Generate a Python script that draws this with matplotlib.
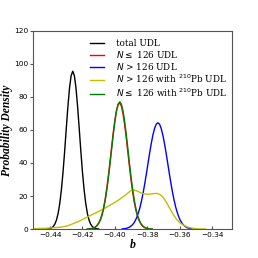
import numpy as np
import matplotlib
matplotlib.use("Agg")
import matplotlib.pyplot as plt

# density curves (b, probability density)
b_total = np.linspace(-0.442, -0.410, 33)
pd_total = [0.07, 0.16, 0.37, 0.79, 1.6, 3.1, 5.6, 9.6, 15.6, 23.8, 34.4,
            47.0, 60.7, 74.0, 85.3, 92.8, 95.5, 92.8, 85.3, 74.0, 60.7, 47.0,
            34.4, 23.8, 15.6, 9.6, 5.6, 3.1, 1.6, 0.79, 0.37, 0.16, 0.07]

b_low = np.linspace(-0.417, -0.377, 41)
pd_low = [0.06, 0.11, 0.21, 0.41, 0.75, 1.3, 2.3, 3.7, 5.8, 8.8, 12.9,
          18.2, 24.8, 32.5, 41.1, 49.9, 58.5, 66.0, 71.8, 75.4, 76.3,
          74.3, 69.8, 63.2, 55.2, 46.4, 37.6, 29.3, 22.1, 16.0, 11.2,
          7.6, 5.0, 3.1, 1.9, 1.1, 0.62, 0.33, 0.17, 0.09, 0.04]
pd_low_pb = [0.05, 0.10, 0.19, 0.37, 0.68, 1.2, 2.1, 3.4, 5.4, 8.2, 12.1,
             17.2, 23.6, 31.1, 39.6, 48.5, 57.3, 65.2, 71.5, 75.6, 77.0,
             75.6, 71.5, 65.2, 57.3, 48.5, 39.6, 31.1, 23.6, 17.2, 12.1,
             8.2, 5.4, 3.4, 2.1, 1.2, 0.68, 0.37, 0.19, 0.10, 0.05]

b_high = np.linspace(-0.3955, -0.3515, 45)
pd_high = [0.12, 0.21, 0.35, 0.59, 0.95, 1.5, 2.3, 3.4, 5.0, 7.1, 9.9,
           13.3, 17.5, 22.4, 28.0, 34.0, 40.3, 46.5, 52.2, 57.2, 61.0, 63.5,
           64.3, 63.5, 61.0, 57.2, 52.2, 46.5, 40.3, 34.0, 28.0, 22.4, 17.5,
           13.3, 9.9, 7.1, 5.0, 3.4, 2.3, 1.5, 0.95, 0.59, 0.35, 0.21, 0.12]

b_high_pb = np.linspace(-0.450, -0.344, 54)
pd_high_pb = [0.2, 0.28, 0.35, 0.45, 0.55, 0.68, 0.8, 0.95, 1.1, 1.4,
              1.8, 2.4, 3.2, 4.0, 4.8, 5.8, 6.8, 7.8, 8.8, 9.7,
              10.7, 11.7, 12.8, 13.9, 15.0, 16.2, 17.4, 18.8, 20.2, 21.8,
              23.4, 23.6, 22.9, 21.9, 21.3, 21.1, 21.2, 21.5, 21.6, 20.8,
              18.8, 15.8, 12.2, 8.8, 6.0, 3.9, 2.5, 1.6, 0.9, 0.5,
              0.25, 0.1, 0.05, 0.0]

fig = plt.figure(figsize=(2.58, 2.58), dpi=100)
ax = fig.add_axes([0.128, 0.112, 0.773, 0.769])

lw = 1.0
ax.plot(b_total, pd_total, color='k', lw=lw, label='total UDL')
ax.plot(b_low, pd_low, color='r', lw=lw, label=r'$N \leq$ 126 UDL')
ax.plot(b_high, pd_high, color='b', lw=lw, label=r'$N$ > 126 UDL')
ax.plot(b_high_pb, pd_high_pb, color='y', lw=lw,
        label=r'$N$ > 126 with $^{210}$Pb UDL')
ax.plot(b_low, pd_low_pb, color='g', lw=lw,
        label=r'$N \leq$ 126 with $^{210}$Pb UDL')

ax.set_xlim(-0.4505, -0.3275)
ax.set_ylim(0, 120)
ax.set_xticks([-0.44, -0.42, -0.40, -0.38, -0.36, -0.34])
ax.set_yticks([0, 20, 40, 60, 80, 100, 120])
ax.tick_params(axis='x', direction='in', length=2, labelsize=5.3, pad=2,
               color='#555555')
ax.tick_params(axis='y', direction='out', length=2, labelsize=5.3, pad=1.5,
               color='#555555')
for s in ax.spines.values():
    s.set_color('#555555')
    s.set_linewidth(0.8)

ax.set_xlabel('b', family='Liberation Serif', weight='bold', style='italic',
              fontsize=8.5, labelpad=0.5)
ax.set_ylabel('Probability Density', family='Liberation Serif', weight='bold',
              style='italic', fontsize=8.3, labelpad=0.8)

leg = ax.legend(loc='upper left', bbox_to_anchor=(0.245, 1.0), frameon=False,
                handlelength=1.6, handletextpad=1.3, labelspacing=0.12,
                prop={'family': 'DejaVu Serif', 'size': 6.4})

fig.savefig('out.png', dpi=100)
